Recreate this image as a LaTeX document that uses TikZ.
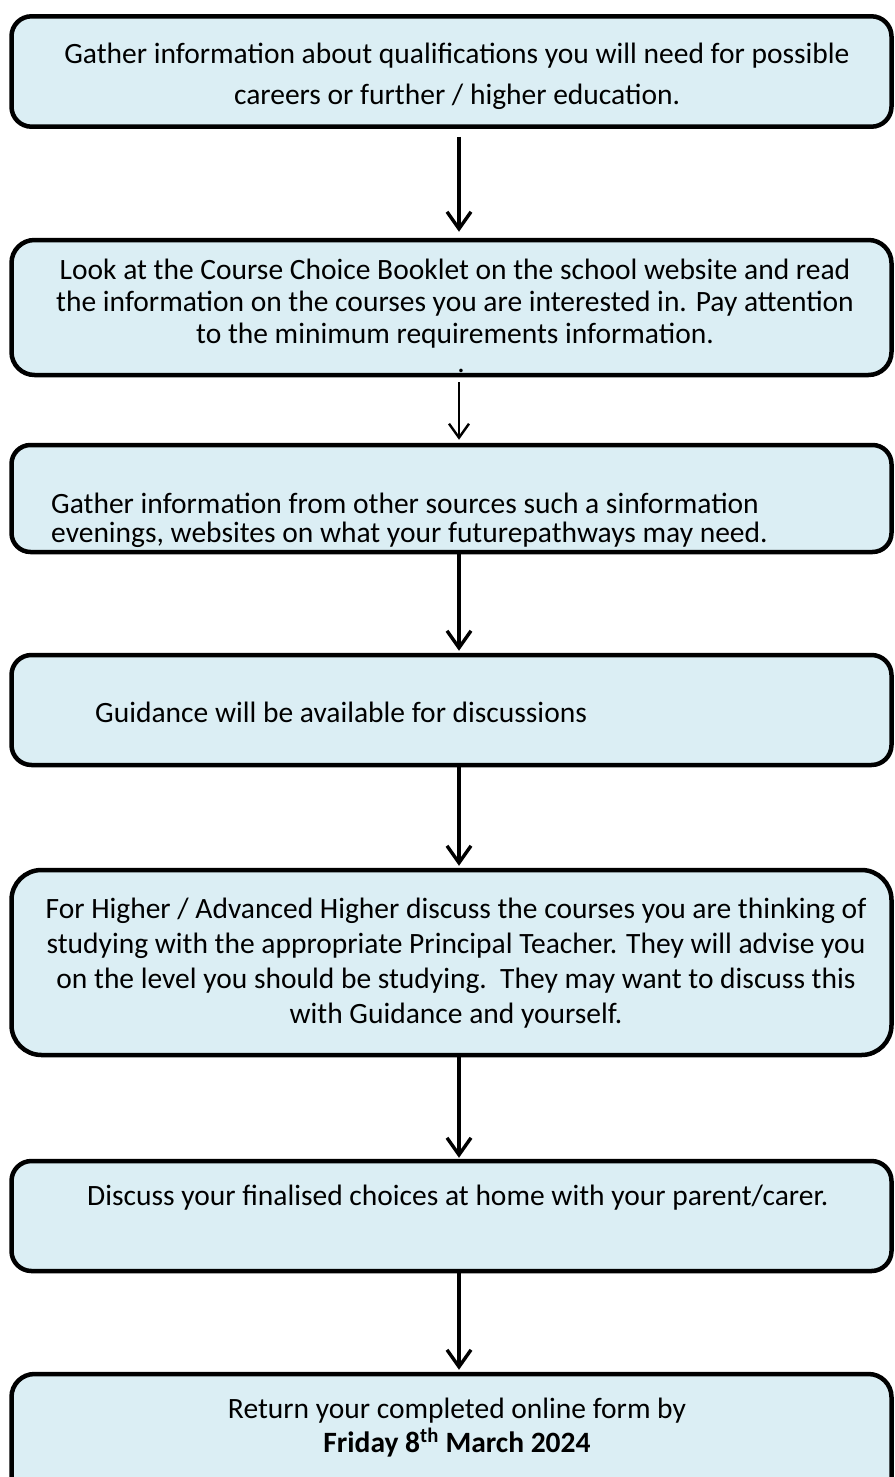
\documentclass[tikz,border=0pt]{standalone}
\usepackage{fontspec}
\setmainfont{Carlito}
\usetikzlibrary{arrows.meta}
\definecolor{boxfill}{HTML}{DBEEF4}
\tikzset{
  flowbox/.style={draw=black, fill=boxfill, line width=4.5pt, inner sep=0pt,
    minimum width=880pt},
  txt/.style={anchor=base, inner sep=0pt, font=\fontsize{29.5}{35}\selectfont},
  txtl/.style={anchor=base west, inner sep=0pt, font=\fontsize{29.5}{35}\selectfont},
  arr/.style={line width=3.4pt, -{Straight Barb[length=17pt,width=24pt,line width=3.4pt]}},
  arrthin/.style={line width=2.4pt, -{Straight Barb[length=14pt,width=20pt,line width=2.4pt]}}
}
\begin{document}
\begin{tikzpicture}[x=1pt,y=-1pt]
\useasboundingbox (0,0) rectangle (894,1477);
\clip (0,0) rectangle (894,1477);
\fill[white] (0,0) rectangle (894,1477);

% boxes
\node[flowbox, rounded corners=20pt, minimum height=110.4pt] (b1) at (451.5,71.5) {};
\node[flowbox, rounded corners=23pt, minimum height=135pt] (b2) at (451.5,307.5) {};
\node[flowbox, rounded corners=19pt, minimum height=107pt] (b3) at (451.5,498.5) {};
\node[flowbox, rounded corners=20pt, minimum height=110pt] (b4) at (451.5,710) {};
\node[flowbox, rounded corners=30pt, minimum height=185pt] (b5) at (451.5,962.5) {};
\node[flowbox, rounded corners=20pt, minimum height=110pt] (b6) at (451.5,1216) {};
\node[flowbox, rounded corners=23pt, minimum height=126pt] (b7) at (451.5,1437) {};

% texts
\node[txt] (t1a) at (457,64) {Gather information about qualifications you will need for possible};
\node[txt] (t1b) at (457,105) {careers or further / higher education.};

\node[txt] (t2a) at (455,279) {Look at the Course Choice Booklet on the school website and read};
\node[txt] (t2b) at (455,311) {the information on the courses you are interested in. Pay attention};
\node[txt] (t2c) at (455,343) {to the minimum requirements information.};
\node[txt] (t2d) at (461,372) {.};

\node[txtl] (t3a) at (51,513) {Gather information from other sources such a sinformation};
\node[txtl] (t3b) at (51,542) {evenings, websites on what your futurepathways may need.};

\node[txtl] (t4) at (95,722) {Guidance will be available for discussions};

\node[txt] (t5a) at (456,918) {For Higher / Advanced Higher discuss the courses you are thinking of};
\node[txt] (t5b) at (456,953) {studying with the appropriate Principal Teacher. They will advise you};
\node[txt] (t5c) at (456,988) {on the level you should be studying.\ \ They may want to discuss this};
\node[txt] (t5d) at (456,1023) {with Guidance and yourself.};

\node[txtl] (t6) at (87,1205) {Discuss your finalised choices at home with your parent/carer.};

\node[txt] (t7a) at (457,1418) {Return your completed online form by};
\node[txt] (t7b) at (457,1452) {\bfseries Friday 8\textsuperscript{th} March 2024};

% arrows
\draw[arr] ([xshift=7.5pt,yshift=-8pt]b1.south) -- ([xshift=7.5pt,yshift=6pt]b2.north);
\draw[arrthin] ([xshift=7.5pt,yshift=-5pt]b2.south) -- ([xshift=7.5pt,yshift=3pt]b3.north);
\draw[arr] ([xshift=7.5pt]b3.south) -- ([xshift=7.5pt,yshift=2pt]b4.north);
\draw[arr] ([xshift=7.5pt]b4.south) -- ([xshift=7.5pt,yshift=2pt]b5.north);
\draw[arr] ([xshift=7.5pt]b5.south) -- ([xshift=7.5pt,yshift=1pt]b6.north);
\draw[arr] ([xshift=7.5pt]b6.south) -- ([xshift=7.5pt,yshift=2pt]b7.north);
\end{tikzpicture}
\end{document}
